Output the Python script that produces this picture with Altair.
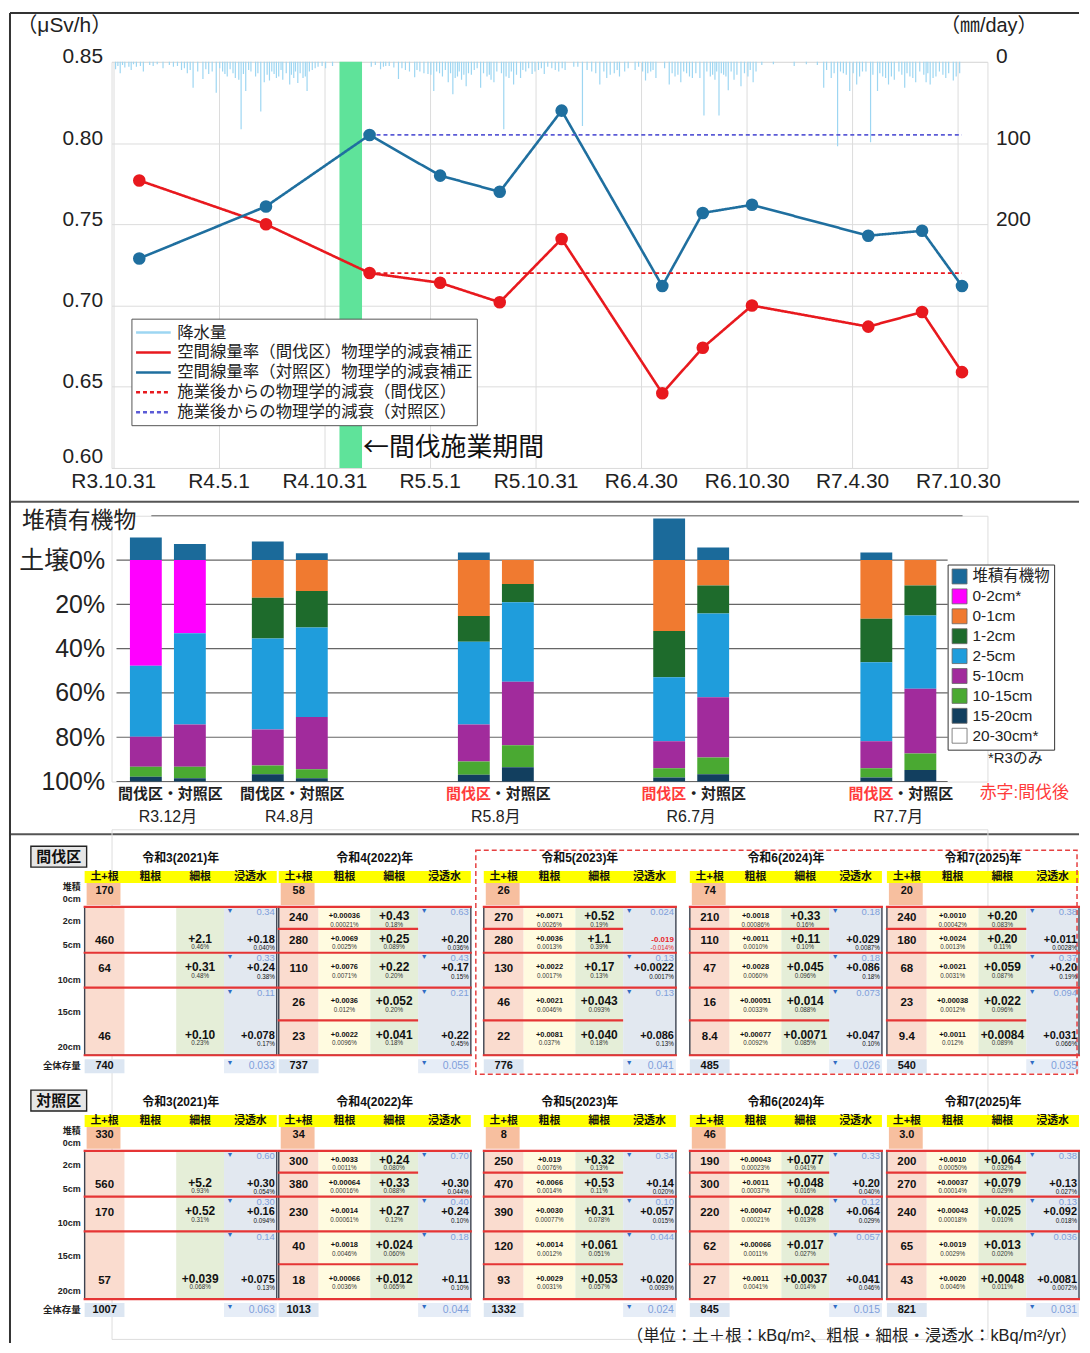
import altair as alt
import pandas as pd

FONT = "Liberation Sans, Noto Sans CJK JP"
JFONT = "Noto Sans CJK JP"


def ms(d):
    return int(pd.Timestamp(d).value // 1_000_000)


# ================= 1. air dose rate & rainfall =================
TICK_DATES = ["2021-10-31", "2022-05-01", "2022-10-31", "2023-05-01", "2023-10-31",
              "2024-04-30", "2024-10-30", "2025-04-30", "2025-10-30"]
MEAS_DATES = ["2021-12-15", "2022-07-22", "2023-01-17", "2023-05-19", "2023-08-30",
              "2023-12-15", "2024-06-06", "2024-08-15", "2024-11-08", "2025-05-28",
              "2025-08-29", "2025-11-06"]
RATE_THIN = [0.777, 0.750, 0.720, 0.714, 0.702, 0.741, 0.646, 0.674, 0.700, 0.687, 0.696, 0.659]
RATE_CTRL = [0.729, 0.761, 0.805, 0.780, 0.770, 0.820, 0.712, 0.757, 0.762, 0.743, 0.746, 0.712]
THIN_WORK = ["2022-11-26", "2023-01-04"]
AFTER_IDX = 2  # first measurement after thinning

RAIN_DATES = [
    "2021-11-04", "2021-11-12", "2021-11-20", "2021-12-01", "2021-12-10", "2021-12-22",
    "2022-01-08", "2022-01-25", "2022-02-12", "2022-02-26", "2022-03-08", "2022-03-18",
    "2022-03-26", "2022-04-04", "2022-04-14", "2022-04-27", "2022-05-08", "2022-05-16",
    "2022-05-26", "2022-06-05", "2022-06-09", "2022-06-17", "2022-06-26", "2022-07-04",
    "2022-07-13", "2022-07-19", "2022-07-28", "2022-08-05", "2022-08-13", "2022-08-20",
    "2022-09-01", "2022-09-08", "2022-09-15", "2022-09-24", "2022-10-01", "2022-10-10",
    "2022-10-20", "2022-11-02", "2022-11-14", "2023-01-20", "2023-02-05", "2023-02-14",
    "2023-02-28", "2023-03-08", "2023-03-20", "2023-04-05", "2023-04-14", "2023-04-28",
    "2023-05-08", "2023-05-18", "2023-05-28", "2023-06-02", "2023-06-10", "2023-06-18",
    "2023-06-25", "2023-07-03", "2023-07-12", "2023-07-28", "2023-08-08", "2023-08-15",
    "2023-08-20", "2023-09-06", "2023-09-15", "2023-09-23", "2023-10-05", "2023-10-14",
    "2023-10-25", "2023-11-05", "2023-11-15", "2023-11-28", "2023-12-10", "2023-12-21",
    "2024-01-05", "2024-01-20", "2024-02-05", "2024-02-19", "2024-03-02", "2024-03-15",
    "2024-03-24", "2024-04-02", "2024-04-20", "2024-05-08", "2024-05-17", "2024-05-26",
    "2024-06-18", "2024-06-28", "2024-07-08", "2024-07-18", "2024-07-28", "2024-08-10",
    "2024-08-17", "2024-08-28", "2024-09-05", "2024-09-12", "2024-09-20", "2024-09-28",
    "2024-10-08", "2024-10-20", "2024-11-01", "2024-11-10", "2024-11-25", "2024-12-15",
    "2025-01-20", "2025-02-10", "2025-03-01", "2025-03-12", "2025-03-25", "2025-04-05",
    "2025-04-15", "2025-04-26", "2025-05-08", "2025-05-18", "2025-06-01", "2025-06-13",
    "2025-06-22", "2025-07-02", "2025-07-12", "2025-07-30", "2025-08-08", "2025-08-18",
    "2025-09-05", "2025-09-12", "2025-09-22", "2025-10-09", "2025-10-22", "2025-11-02",
    "2021-11-08", "2021-11-16", "2021-11-27", "2021-12-05", "2021-12-17", "2022-01-02",
    "2022-01-15", "2022-02-05", "2022-02-19", "2022-03-03", "2022-03-13", "2022-04-09",
    "2022-04-20", "2022-05-03", "2022-05-12", "2022-05-21", "2022-05-30", "2022-06-13",
    "2022-06-22", "2022-07-08", "2022-07-24", "2022-08-01", "2022-08-09", "2022-08-17",
    "2022-08-26", "2022-09-04", "2022-09-11", "2022-09-19", "2022-09-28", "2022-10-05",
    "2022-10-15", "2022-10-27", "2023-01-27", "2023-02-10", "2023-02-20", "2023-03-14",
    "2023-03-27", "2023-04-09", "2023-04-21", "2023-05-03", "2023-05-13", "2023-05-23",
    "2023-06-06", "2023-06-14", "2023-06-21", "2023-06-29", "2023-07-07", "2023-07-17",
    "2023-07-22", "2023-08-02", "2023-08-12", "2023-08-25", "2023-09-02", "2023-09-10",
    "2023-09-19", "2023-09-28", "2023-10-09", "2023-10-19", "2023-10-30", "2023-11-10",
    "2023-11-21", "2023-12-04", "2023-12-16", "2024-01-12", "2024-01-28", "2024-02-12",
    "2024-02-26", "2024-03-08", "2024-03-20", "2024-04-08", "2024-04-26", "2024-05-03",
    "2024-05-12", "2024-05-21", "2024-06-10", "2024-06-23", "2024-07-03", "2024-07-13",
    "2024-07-23", "2024-08-03", "2024-08-22", "2024-09-01", "2024-09-08", "2024-09-16",
    "2024-09-24", "2024-10-03", "2024-10-13", "2024-10-26", "2024-11-05", "2024-11-15",
    "2025-03-17", "2025-03-30", "2025-04-10", "2025-04-20", "2025-05-02", "2025-05-13",
    "2025-05-24", "2025-06-05", "2025-06-17", "2025-06-27", "2025-07-07", "2025-07-20",
    "2025-07-25", "2025-08-03", "2025-08-13", "2025-08-25", "2025-09-01", "2025-09-08",
    "2025-09-17", "2025-09-28", "2025-10-04", "2025-10-14", "2025-10-27"]
RAIN_MM = [
    9, 14, 7, 10, 6, 12,
    5, 8, 6, 10, 14, 32,
    12, 21, 15, 38, 12, 18,
    14, 22, 83, 36, 12, 18,
    61, 25, 23, 15, 18, 22,
    28, 20, 26, 20, 36, 10,
    6, 8, 5, 6, 9, 5,
    7, 21, 10, 19, 12, 15,
    36, 14, 10, 25, 40, 18,
    22, 30, 16, 32, 18, 22,
    25, 83, 20, 28, 20, 12,
    15, 10, 15, 8, 12, 10,
    6, 79, 12, 28, 20, 14,
    18, 12, 10, 23, 12, 20,
    28, 18, 25, 14, 20, 20,
    66, 18, 22, 66, 16, 35,
    22, 30, 18, 25, 4, 3,
    5, 3, 4, 32, 20, 104,
    14, 36, 28, 12, 99, 36,
    18, 28, 22, 32, 18, 25,
    25, 28, 18, 20, 23, 14,
    5, 4, 6, 3, 5, 4,
    3, 4, 5, 8, 10, 9,
    12, 8, 15, 9, 20, 15,
    10, 14, 16, 12, 20, 10,
    14, 16, 12, 14, 18, 12,
    8, 5, 4, 6, 5, 8,
    12, 10, 14, 16, 12, 18,
    14, 20, 12, 16, 14, 10,
    8, 14, 16, 12, 14, 18,
    12, 16, 10, 8, 12, 8,
    6, 10, 8, 6, 10, 14,
    12, 16, 10, 8, 6, 12,
    14, 10, 8, 14, 16, 12,
    18, 14, 12, 16, 12, 14,
    18, 12, 16, 14, 10, 12,
    10, 14, 12, 16, 14, 18,
    12, 16, 14, 20, 18, 12,
    16, 14, 20, 12, 16, 14,
    20, 12, 16, 14, 18]

SERIES = ["降水量",
          "空間線量率（間伐区）物理学的減衰補正",
          "空間線量率（対照区）物理学的減衰補正",
          "施業後からの物理学的減衰（間伐区）",
          "施業後からの物理学的減衰（対照区）"]
SERIES_COLORS = ["#9dd6f2", "#e8191e", "#1f6f9f", "#e8191e", "#5b5bd6"]
SERIES_DASH = [[1, 0], [1, 0], [1, 0], [4, 3], [4, 3]]

# ================= 2. stacked bars (depth distribution) =================
SAMPLE_DATES = ["2021-12-28", "2022-08-01", "2023-08-01", "2024-07-12", "2025-07-14"]
SAMPLE_LABELS = ["R3.12月", "R4.8月", "R5.8月", "R6.7月", "R7.7月"]
AFTER_THINNING = [False, False, True, True, True]
LAYERS = ["堆積有機物", "0-2cm*", "0-1cm", "1-2cm", "2-5cm", "5-10cm", "10-15cm", "15-20cm", "20-30cm*"]
LAYER_COLORS = ["#1b6a9a", "#ff00ff", "#f07a30", "#1e6b2c", "#1f9ddc", "#a12b9c", "#4aa932", "#123f5f", "#ffffff"]
# bar order: (間伐区, 対照区) for each sampling
OM = [10.2, 7.3, 8.4, 3.1, 3.4, 0.0, 18.8, 5.7, 3.4, 0.0]
P_0_2 = [47.7, 33.0, 0, 0, 0, 0, 0, 0, 0, 0]
P_0_1 = [0, 0, 17.0, 14.0, 25.3, 10.8, 32.0, 11.5, 26.5, 11.5]
P_1_2 = [0, 0, 18.4, 16.5, 11.6, 8.2, 20.9, 12.6, 19.7, 13.5]
P_2_5 = [32.1, 41.3, 41.1, 40.4, 37.4, 35.9, 28.9, 37.8, 35.6, 33.1]
P_5_10 = [13.5, 19.0, 16.3, 23.6, 16.7, 28.7, 12.2, 27.3, 12.2, 29.2]
P_10_15 = [4.5, 5.2, 3.9, 4.0, 6.0, 10.0, 4.2, 7.5, 4.2, 7.5]
P_15_20 = [2.2, 1.5, 3.3, 1.5, 3.0, 6.4, 1.8, 3.3, 1.8, 5.2]
P_20_30 = [0, 0, 0, 0, 0, 0, 0, 0, 0, 0]
PCT_TICKS = [0, 20, 40, 60, 80, 100]

# ================= 3. tables =================
YEARS = ["令和3(2021)年", "令和4(2022)年", "令和5(2023)年", "令和6(2024)年", "令和7(2025)年"]
HEADERS = ["土+根", "粗根", "細根", "浸透水"]
PANELS = ["間伐区", "対照区"]
DEPTH_LABELS = ["0cm", "2cm", "5cm", "10cm", "15cm", "20cm"]

TH_OM = ["170", "58", "26", "74", "20"]
TH_TOTAL = ["740", "737", "776", "485", "540"]
TH_FLUX = [["0.34", "0.33", "0.11", "0.033"], ["0.63", "0.43", "0.21", "0.055"],
           ["0.024", "0.13", "0.13", "0.041"], ["0.18", "0.18", "0.073", "0.026"],
           ["0.38", "0.37", "0.094", "0.035"]]
TH_SOIL = [["", "460", "64", "", "46"], ["240", "280", "110", "26", "23"],
           ["270", "280", "130", "46", "22"], ["210", "110", "47", "16", "8.4"],
           ["240", "180", "68", "23", "9.4"]]
TH_COARSE = [["", "", "", "", ""], ["+0.00036", "+0.0069", "+0.0076", "+0.0036", "+0.0022"],
             ["+0.0071", "+0.0036", "+0.0022", "+0.0021", "+0.0081"],
             ["+0.0018", "+0.0011", "+0.0028", "+0.00051", "+0.00077"],
             ["+0.0010", "+0.0024", "+0.0021", "+0.00038", "+0.0011"]]
TH_COARSE_PCT = [["", "", "", "", ""], ["0.00021%", "0.0025%", "0.0071%", "0.012%", "0.0096%"],
                 ["0.0026%", "0.0013%", "0.0017%", "0.0046%", "0.037%"],
                 ["0.00086%", "0.0010%", "0.0060%", "0.0033%", "0.0092%"],
                 ["0.00042%", "0.0013%", "0.0031%", "0.0012%", "0.012%"]]
TH_FINE = [["", "+2.1", "+0.31", "", "+0.10"], ["+0.43", "+0.25", "+0.22", "+0.052", "+0.041"],
           ["+0.52", "+1.1", "+0.17", "+0.043", "+0.040"],
           ["+0.33", "+0.11", "+0.045", "+0.014", "+0.0071"],
           ["+0.20", "+0.20", "+0.059", "+0.022", "+0.0084"]]
TH_FINE_PCT = [["", "0.46%", "0.48%", "", "0.23%"], ["0.18%", "0.089%", "0.20%", "0.20%", "0.18%"],
               ["0.19%", "0.39%", "0.13%", "0.093%", "0.18%"],
               ["0.16%", "0.10%", "0.096%", "0.088%", "0.085%"],
               ["0.083%", "0.11%", "0.087%", "0.096%", "0.089%"]]
TH_LEACH = [["", "+0.18", "+0.24", "", "+0.078"], ["", "+0.20", "+0.17", "", "+0.22"],
            ["", "-0.019", "+0.0022", "", "+0.086"], ["", "+0.029", "+0.086", "", "+0.047"],
            ["", "+0.011", "+0.20", "", "+0.031"]]
TH_LEACH_PCT = [["", "0.040%", "0.38%", "", "0.17%"], ["", "0.036%", "0.15%", "", "0.45%"],
                ["", "-0.014%", "0.0017%", "", "0.13%"], ["", "0.0087%", "0.18%", "", "0.10%"],
                ["", "0.0028%", "0.19%", "", "0.066%"]]

CT_OM = ["330", "34", "8", "46", "3.0"]
CT_TOTAL = ["1007", "1013", "1332", "845", "821"]
CT_FLUX = [["0.60", "0.30", "0.14", "0.063"], ["0.70", "0.40", "0.18", "0.044"],
           ["0.34", "0.10", "0.044", "0.024"], ["0.33", "0.12", "0.057", "0.015"],
           ["0.38", "0.13", "0.036", "0.031"]]
CT_SOIL = [["", "560", "170", "", "57"], ["300", "380", "230", "40", "18"],
           ["250", "470", "390", "120", "93"], ["190", "300", "220", "62", "27"],
           ["200", "270", "240", "65", "43"]]
CT_COARSE = [["", "", "", "", ""], ["+0.0033", "+0.00064", "+0.0014", "+0.0018", "+0.00066"],
             ["+0.019", "+0.0066", "+0.0030", "+0.0014", "+0.0029"],
             ["+0.00043", "+0.0011", "+0.00047", "+0.00066", "+0.0011"],
             ["+0.0010", "+0.00037", "+0.00043", "+0.0019", "+0.0020"]]
CT_COARSE_PCT = [["", "", "", "", ""], ["0.0011%", "0.00016%", "0.00061%", "0.0046%", "0.0036%"],
                 ["0.0076%", "0.0014%", "0.00077%", "0.0012%", "0.0031%"],
                 ["0.00023%", "0.00037%", "0.00021%", "0.0011%", "0.0041%"],
                 ["0.00050%", "0.00014%", "0.00018%", "0.0029%", "0.0046%"]]
CT_FINE = [["", "+5.2", "+0.52", "", "+0.039"], ["+0.24", "+0.33", "+0.27", "+0.024", "+0.012"],
           ["+0.32", "+0.53", "+0.31", "+0.061", "+0.053"],
           ["+0.077", "+0.048", "+0.028", "+0.017", "+0.0037"],
           ["+0.064", "+0.079", "+0.025", "+0.013", "+0.0048"]]
CT_FINE_PCT = [["", "0.93%", "0.31%", "", "0.068%"], ["0.080%", "0.088%", "0.12%", "0.060%", "0.065%"],
               ["0.13%", "0.11%", "0.078%", "0.051%", "0.057%"],
               ["0.041%", "0.016%", "0.013%", "0.027%", "0.014%"],
               ["0.032%", "0.029%", "0.010%", "0.020%", "0.011%"]]
CT_LEACH = [["", "+0.30", "+0.16", "", "+0.075"], ["", "+0.30", "+0.24", "", "+0.11"],
            ["", "+0.14", "+0.057", "", "+0.020"], ["", "+0.20", "+0.064", "", "+0.041"],
            ["", "+0.13", "+0.092", "", "+0.0081"]]
CT_LEACH_PCT = [["", "0.054%", "0.094%", "", "0.13%"], ["", "0.044%", "0.10%", "", "0.10%"],
                ["", "0.020%", "0.015%", "", "0.0093%"], ["", "0.040%", "0.029%", "", "0.046%"],
                ["", "0.027%", "0.018%", "", "0.0072%"]]
FOOTNOTE = "（単位：土＋根：kBq/m²、粗根・細根・浸透水：kBq/m²/yr）"

# ------------------------------------------------------------------
W = 880
H1 = 408
H2 = 267
H3 = 512
one = pd.DataFrame({"k": [0]})

# ---------------- top chart ----------------
xs_top = alt.Scale(type="utc", domain=[ms("2021-10-28"), ms("2025-12-20")])
x_axis_top = alt.Axis(values=[ms(d) for d in TICK_DATES],
                      labelExpr="'R' + (utcyear(datum.value) - 2018) + '.' + (utcmonth(datum.value) + 1) + '.' + utcdate(datum.value)",
                      grid=True, gridColor="#dcdcdc", domain=False, ticks=False,
                      labelFontSize=21, labelFont=FONT, labelColor="#222", labelPadding=3,
                      labelFlush=False, labelOverlap=False, title=None)
rate_scale = alt.Scale(domain=[0.60, 0.85], nice=False, zero=False)
rate_axis = alt.Axis(values=[0.60, 0.65, 0.70, 0.75, 0.80, 0.85], format=".2f", grid=True,
                     gridColor="#dcdcdc", domain=False, ticks=False, labelFontSize=21,
                     labelFont=FONT, labelColor="#222", labelPadding=9,
                     labelOffset={"condition": {"test": "datum.value < 0.61", "value": -11}, "value": -5},
                     title="（μSv/h）", titleAngle=0, titleAlign="left", titleBaseline="middle",
                     titleX=-96, titleY=-37, titleFontSize=21, titleFont=FONT,
                     titleFontWeight="normal", titleColor="#222")
rain_axis = alt.Axis(orient="right", values=[0, 100, 200], grid=False, domain=False, ticks=False,
                     labelFontSize=21, labelFont=FONT, labelColor="#222", labelPadding=8,
                     labelOffset=-5,
                     title="（㎜/day）", titleAngle=0, titleAlign="left", titleBaseline="middle",
                     titleX=-48, titleY=-37, titleFontSize=20, titleFont=FONT,
                     titleFontWeight="normal", titleColor="#222")
top_legend = alt.Legend(title=None, orient="none", legendX=20, legendY=258,
                        symbolType="M-1.1,0L3,0", symbolSize=289, symbolStrokeWidth=2.5,
                        labelFont=FONT, labelFontSize=16.5, labelLimit=600, labelColor="#222",
                        fillColor="white", strokeColor="#555", padding=4, rowPadding=1,
                        labelOffset=22)
color_top = alt.Color("series:N", scale=alt.Scale(domain=SERIES, range=SERIES_COLORS), legend=top_legend)
dash_top = alt.StrokeDash("series:N", scale=alt.Scale(domain=SERIES, range=SERIES_DASH), legend=top_legend)

rain_df = pd.DataFrame({"date": RAIN_DATES, "mm": RAIN_MM, "series": SERIES[0]})
band_df = pd.DataFrame({"start": [THIN_WORK[0]], "end": [THIN_WORK[1]]})

solid_df = pd.concat([
    pd.DataFrame({"date": MEAS_DATES, "value": RATE_THIN, "series": SERIES[1]}),
    pd.DataFrame({"date": MEAS_DATES, "value": RATE_CTRL, "series": SERIES[2]}),
])
dash_df = pd.concat([
    pd.DataFrame({"date": [MEAS_DATES[AFTER_IDX], MEAS_DATES[-1]],
                  "value": [RATE_THIN[AFTER_IDX]] * 2, "series": SERIES[3]}),
    pd.DataFrame({"date": [MEAS_DATES[AFTER_IDX], MEAS_DATES[-1]],
                  "value": [RATE_CTRL[AFTER_IDX]] * 2, "series": SERIES[4]}),
])

band = alt.Chart(band_df).mark_rect(color="#5fe39a").encode(
    x=alt.X("start:T", scale=xs_top, axis=x_axis_top), x2="end:T")
rain = alt.Chart(rain_df).mark_rule(strokeWidth=1.2).encode(
    x=alt.X("date:T", scale=xs_top, axis=x_axis_top),
    y=alt.Y("mm:Q", scale=alt.Scale(domain=[0, 500], reverse=True, nice=False), axis=rain_axis),
    y2=alt.datum(0),
    color=color_top, strokeDash=dash_top)
lines_solid = alt.Chart(solid_df).mark_line(strokeWidth=2.6).encode(
    x=alt.X("date:T", scale=xs_top, axis=x_axis_top),
    y=alt.Y("value:Q", scale=rate_scale, axis=rate_axis),
    color=color_top, strokeDash=dash_top)
lines_dash = alt.Chart(dash_df).mark_line(strokeWidth=1.8).encode(
    x=alt.X("date:T", scale=xs_top, axis=x_axis_top),
    y=alt.Y("value:Q", scale=rate_scale, axis=rate_axis),
    color=color_top, strokeDash=dash_top)
points = alt.Chart(solid_df).mark_circle(size=160, opacity=1).encode(
    x=alt.X("date:T", scale=xs_top, axis=x_axis_top),
    y=alt.Y("value:Q", scale=rate_scale, axis=rate_axis),
    color=color_top)
annot = alt.Chart(band_df).mark_text(align="left", baseline="middle", fontSize=26, font=JFONT,
                                     color="#111", dx=1).encode(
    x=alt.X("end:T", scale=xs_top, axis=x_axis_top), y=alt.value(388),
    text=alt.value("←間伐施業期間"))
inner = alt.layer(lines_solid, lines_dash, points, annot)

frame_top_h = alt.Chart(one).mark_rule(color="#333", strokeWidth=2).encode(
    x=alt.value(-102), x2=alt.value(972), y=alt.value(-49))
frame_top_v = alt.Chart(one).mark_rule(color="#333", strokeWidth=2).encode(
    x=alt.value(-102), y=alt.value(-49), y2=alt.value(456))
sep1 = alt.Chart(one).mark_rule(color="#555", strokeWidth=2).encode(
    x=alt.value(-102), x2=alt.value(972), y=alt.value(442))

top = alt.layer(band, rain, inner, frame_top_h, frame_top_v, sep1).resolve_scale(
    y="independent").properties(width=W, height=H1)

# ---------------- middle chart ----------------
BAR_SHIFT = [-39, 39]
SEG_VALUES = [P_0_2, P_0_1, P_1_2, P_2_5, P_5_10, P_10_15, P_15_20, P_20_30]
rows = []
for i in range(len(OM)):
    s, p = divmod(i, 2)
    xd = (pd.Timestamp(SAMPLE_DATES[s]) + pd.Timedelta(days=BAR_SHIFT[p])).strftime("%Y-%m-%d")
    if OM[i] > 0:
        rows.append(dict(xdate=xd, layer=LAYERS[0], y0=-OM[i], y1=0.0))
    cum = 0.0
    for name, vals in zip(LAYERS[1:], SEG_VALUES):
        v = vals[i]
        if v > 0:
            rows.append(dict(xdate=xd, layer=name, y0=cum, y1=cum + v))
            cum += v
bar_df = pd.DataFrame(rows)

xs_mid = alt.Scale(type="utc", domain=[ms("2021-09-28"), ms("2025-12-10")])
ys_mid = alt.Scale(domain=[-20, 100], reverse=True, nice=False, zero=False)
mid_axis = alt.Axis(values=PCT_TICKS, labelExpr="datum.value == 0 ? '土壌0%' : datum.value + '%'",
                    grid=False, domain=False, ticks=False, labelFontSize=25, labelFont=FONT,
                    labelColor="#222", labelPadding=7, title=None)
mid_legend = alt.Legend(title=None, orient="none", legendX=840, legendY=49, symbolType="square",
                        symbolSize=225, symbolStrokeColor="#666", symbolStrokeWidth=0.8,
                        labelFont=FONT, labelFontSize=15.5, labelColor="#222", fillColor="white",
                        strokeColor="#333", padding=4, rowPadding=0, labelOffset=5)

grid_df = pd.DataFrame({"p": PCT_TICKS})
grid = alt.Chart(grid_df).mark_rule(color="#666", strokeWidth=1.2).encode(
    y=alt.Y("p:Q", scale=ys_mid, axis=mid_axis), x=alt.value(5), x2=alt.value(840))
om_line = alt.Chart(pd.DataFrame({"p": [-20]})).mark_rule(color="#666", strokeWidth=1.2).encode(
    y=alt.Y("p:Q", scale=ys_mid, axis=mid_axis), x=alt.value(40), x2=alt.value(855))
bars = alt.Chart(bar_df).mark_bar(width=32).encode(
    x=alt.X("xdate:T", scale=xs_mid, axis=None),
    y=alt.Y("y0:Q", scale=ys_mid, axis=mid_axis), y2="y1:Q",
    color=alt.Color("layer:N", scale=alt.Scale(domain=LAYERS, range=LAYER_COLORS), legend=mid_legend))
pair_df = pd.DataFrame({"date": SAMPLE_DATES, "label": SAMPLE_LABELS,
                        "tcol": ["#ff3b3b" if a else "#222" for a in AFTER_THINNING]})
lab_thin = alt.Chart(pair_df).mark_text(align="right", baseline="middle", fontSize=15,
                                        fontWeight="bold", font=FONT, dx=-5).encode(
    x=alt.X("date:T", scale=xs_mid, axis=None), y=alt.value(H2 + 13),
    text=alt.value("間伐区"), color=alt.Color("tcol:N", scale=None))
lab_ctrl = alt.Chart(pair_df).mark_text(align="left", baseline="middle", fontSize=15,
                                        fontWeight="bold", font=FONT, dx=-5, color="#222").encode(
    x=alt.X("date:T", scale=xs_mid, axis=None), y=alt.value(H2 + 13),
    text=alt.value("・対照区"))
lab_date = alt.Chart(pair_df).mark_text(align="center", baseline="middle", fontSize=16,
                                        font=FONT, color="#222").encode(
    x=alt.X("date:T", scale=xs_mid, axis=None), y=alt.value(H2 + 36), text="label:N")
om_title = alt.Chart(one).mark_text(align="left", baseline="middle", fontSize=23, font=FONT,
                                    color="#222").encode(
    x=alt.value(-90), y=alt.value(5), text=alt.value("堆積有機物"))
note1 = alt.Chart(one).mark_text(align="center", baseline="middle", fontSize=15, font=FONT,
                                 color="#222").encode(
    x=alt.value(908), y=alt.value(243), text=alt.value("*R3のみ"))
note2 = alt.Chart(one).mark_text(align="center", baseline="middle", fontSize=17, font=FONT,
                                 color="#ff3b3b").encode(
    x=alt.value(917), y=alt.value(279), text=alt.value("赤字:間伐後"))
frame_mid_v = alt.Chart(one).mark_rule(color="#333", strokeWidth=2).encode(
    x=alt.value(-102), y=alt.value(-14), y2=alt.value(322))
sep2 = alt.Chart(one).mark_rule(color="#555", strokeWidth=2).encode(
    x=alt.value(-102), x2=alt.value(972), y=alt.value(320))

mid = alt.layer(grid, om_line, bars, lab_thin, lab_ctrl, lab_date, om_title, note1, note2,
                frame_mid_v, sep2).properties(width=W, height=H2)

# ---------------- tables ----------------
SUB_X = [83, 278, 484, 691, 889]
COL_W = [40, 52, 48, 53]
SUB_W = sum(COL_W)
ZERO_Y = [906, 1151]
DEPTH_OFF = [0, 22, 46, 81, 114, 149]
BG = ["#fadccf", "#fffbe0", "#e5eed8", "#e2e8f0"]

TH = dict(om=TH_OM, total=TH_TOTAL, flux=TH_FLUX, soil=TH_SOIL, coarse=TH_COARSE,
          coarse_pct=TH_COARSE_PCT, fine=TH_FINE, fine_pct=TH_FINE_PCT, leach=TH_LEACH,
          leach_pct=TH_LEACH_PCT)
CT = dict(om=CT_OM, total=CT_TOTAL, flux=CT_FLUX, soil=CT_SOIL, coarse=CT_COARSE,
          coarse_pct=CT_COARSE_PCT, fine=CT_FINE, fine_pct=CT_FINE_PCT, leach=CT_LEACH,
          leach_pct=CT_LEACH_PCT)

texts, fills, boxes, reds, dashes, vlines = [], [], [], [], [], []


def put(x, y, t, fs, col="#111", al="center", wt="normal"):
    if t:
        texts.append(dict(x=x, y=y, t=t, fs=fs, col=col, al=al, wt=wt))


def tcol(t):
    return "#e8262b" if t.startswith("-") else "#111"


for p, D in enumerate([TH, CT]):
    y0 = ZERO_Y[p]
    fills.append(dict(x=29, x2=85, y=y0 - 61, y2=y0 - 40, col="#e6e6e6"))
    boxes.append(dict(x=29, x2=85, y=y0 - 61, y2=y0 - 40, col="#222"))
    put(57, y0 - 50, PANELS[p], 15, "#111", "center", "bold")
    put(79, y0 - 20, "堆積", 9, "#222", "right", "bold")
    for lab, off in zip(DEPTH_LABELS, DEPTH_OFF):
        put(79, y0 + off - 8, lab, 9, "#222", "right", "bold")
    put(79, y0 + 160, "全体存量", 9.5, "#222", "right", "bold")
    for s in range(5):
        x0 = SUB_X[s]
        xr = x0 + SUB_W
        lefts = [x0 + sum(COL_W[:c]) for c in range(4)]
        cx = [lefts[c] + COL_W[c] / 2 for c in range(4)]
        # backgrounds
        for c in range(4):
            if s == 0 and c == 1:
                continue
            fills.append(dict(x=lefts[c], x2=lefts[c] + COL_W[c], y=y0, y2=y0 + DEPTH_OFF[-1], col=BG[c]))
        fills.append(dict(x=x0, x2=xr, y=y0 - 36, y2=y0 - 24, col="#ffff00"))
        fills.append(dict(x=x0 + 2, x2=x0 + COL_W[0] - 4, y=y0 - 24, y2=y0 - 2, col="#f7bf9f"))
        fills.append(dict(x=x0, x2=x0 + COL_W[0], y=y0 + 153, y2=y0 + 167, col="#dce6f2"))
        fills.append(dict(x=lefts[3], x2=xr, y=y0 + 153, y2=y0 + 167, col="#e6edf7"))
        boxes.append(dict(x=x0, x2=xr, y=y0, y2=y0 + DEPTH_OFF[-1], col="#3d4350"))
        # red lines
        for bi in [0, 2, 3, 5]:
            reds.append(dict(x=x0 - 1, x2=xr + 1, y=y0 + DEPTH_OFF[bi]))
        if s > 0:
            for bi in [1, 4]:
                reds.append(dict(x=x0 - 1, x2=lefts[3], y=y0 + DEPTH_OFF[bi]))
        # texts
        put(x0 + SUB_W / 2, y0 - 49, YEARS[s], 12, "#111", "center", "bold")
        for c in range(4):
            put(cx[c], y0 - 30, HEADERS[c], 11, "#111", "center", "bold")
        put(cx[0], y0 - 16, D["om"][s], 11, "#111", "center", "bold")
        put(cx[0], y0 + 160, D["total"][s], 11, "#111", "center", "bold")
        for k in range(5):
            top_y = y0 + DEPTH_OFF[k]
            h = DEPTH_OFF[k + 1] - DEPTH_OFF[k]
            vy = top_y + 0.42 * h
            py = vy + 8.5
            put(cx[0], vy + 2, D["soil"][s][k], 11.5, "#111", "center", "bold")
            put(cx[1], vy, D["coarse"][s][k], 7.5, tcol(D["coarse"][s][k]), "center", "bold")
            put(cx[1], py, D["coarse_pct"][s][k], 6.3, "#333", "center", "normal")
            put(cx[2], vy, D["fine"][s][k], 12, tcol(D["fine"][s][k]), "center", "bold")
            put(cx[2], py, D["fine_pct"][s][k], 6.3, "#333", "center", "normal")
            lv = D["leach"][s][k]
            put(xr - 2, vy + 1, lv, 11 if not lv.startswith("-") else 8, tcol(lv), "right", "bold")
            put(xr - 2, py + 1, D["leach_pct"][s][k], 6.3, tcol(D["leach_pct"][s][k]), "right", "normal")
        for j, bi in enumerate([0, 2, 3]):
            by = y0 + DEPTH_OFF[bi]
            put(xr - 2, by + 5.5, D["flux"][s][j], 9.5, "#7f9fdb", "right", "normal")
            put(lefts[3] + 6, by + 4, "▼", 7, "#2f6cc4", "center", "normal")
        put(xr - 2, y0 + 160, D["flux"][s][3], 10.5, "#7f9fdb", "right", "normal")
        put(lefts[3] + 6, y0 + 157, "▼", 7, "#2f6cc4", "center", "normal")

dashes.append(dict(x=476, x2=1080, y=ZERO_Y[0] - 57, y2=ZERO_Y[0] + 168))
put(1080, 1337, FOOTNOTE, 16.5, "#222", "right", "normal")
vlines.append(dict(x=8, y=830, y2=1344))

txs = alt.Scale(domain=[110, 990], range=[0, W], nice=False, zero=False)
tys = alt.Scale(domain=[828, 828 + H3], range=[0, H3], nice=False, zero=False)
X = lambda f: alt.X(f, scale=txs, axis=None)
Y = lambda f: alt.Y(f, scale=tys, axis=None)

fill_layer = alt.Chart(pd.DataFrame(fills)).mark_rect().encode(
    x=X("x:Q"), x2="x2:Q", y=Y("y:Q"), y2="y2:Q", color=alt.Color("col:N", scale=None))
box_layer = alt.Chart(pd.DataFrame(boxes)).mark_rect(filled=False, strokeWidth=1.4).encode(
    x=X("x:Q"), x2="x2:Q", y=Y("y:Q"), y2="y2:Q", color=alt.Color("col:N", scale=None))
red_layer = alt.Chart(pd.DataFrame(reds)).mark_rule(color="#e53535", strokeWidth=2.2).encode(
    x=X("x:Q"), x2="x2:Q", y=Y("y:Q"))
dash_layer = alt.Chart(pd.DataFrame(dashes)).mark_rect(filled=False, strokeWidth=1.5, color="#e64040",
                                                       strokeDash=[5, 3]).encode(
    x=X("x:Q"), x2="x2:Q", y=Y("y:Q"), y2="y2:Q")
frame_layer = alt.Chart(pd.DataFrame(vlines)).mark_rule(color="#333", strokeWidth=2).encode(
    x=X("x:Q"), y=Y("y:Q"), y2="y2:Q")

tdf = pd.DataFrame(texts)
text_layers = []
for (al, wt), g in tdf.groupby(["al", "wt"]):
    text_layers.append(
        alt.Chart(g).mark_text(align=al, fontWeight=wt, baseline="middle", font=FONT).encode(
            x=X("x:Q"), y=Y("y:Q"), text="t:N",
            size=alt.Size("fs:Q", scale=None), color=alt.Color("col:N", scale=None)))

table = alt.layer(fill_layer, box_layer, red_layer, dash_layer, frame_layer, *text_layers).properties(
    width=W, height=H3)

chart = alt.vconcat(top, mid, table, spacing=48, bounds="flush", padding=0).resolve_scale(
    color="independent", strokeDash="independent").resolve_legend(
    color="independent", strokeDash="independent").configure_view(stroke=None).configure(font=FONT)

chart.save("out.html", embed_options={"renderer": "svg", "actions": False})
